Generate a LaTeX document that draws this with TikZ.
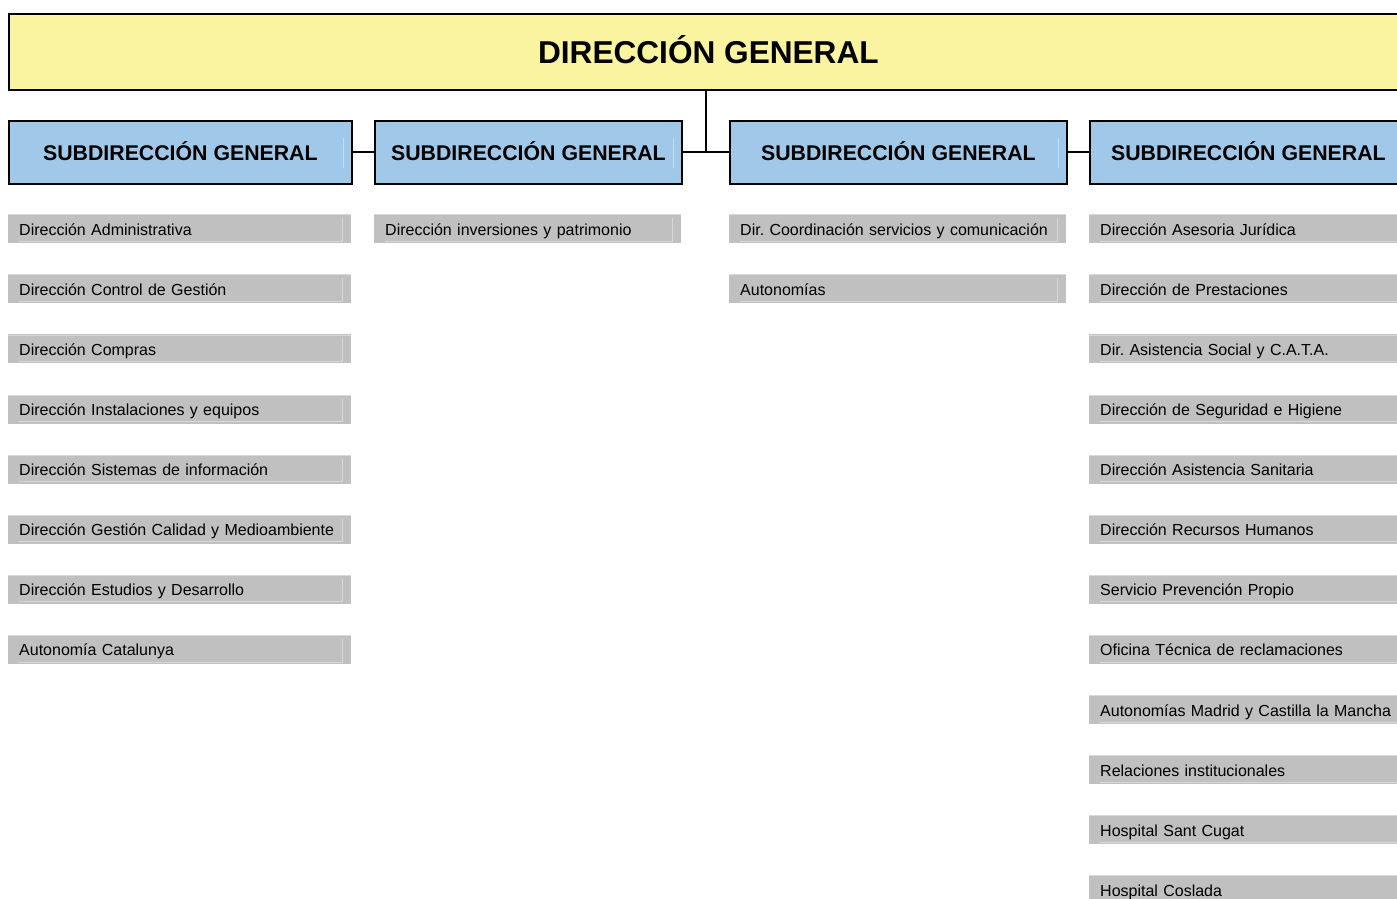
\documentclass[tikz,border=0pt]{standalone}
\usepackage{fontspec}
\setmainfont{Liberation Sans}
\frenchspacing
\definecolor{ytop}{HTML}{FAF39F}
\definecolor{bsub}{HTML}{9FC8E9}
\definecolor{gitem}{HTML}{C0C0C0}
\definecolor{glight}{HTML}{D8D8D8}
\definecolor{blight}{HTML}{C6DEF2}
\begin{document}
\begin{tikzpicture}[x=1pt,y=-1pt,
  topbox/.style={draw=black, line width=1.8pt, fill=ytop, inner sep=0pt, anchor=north west,
    text height=22.6pt, text depth=0pt,
    font=\fontsize{31.6}{36}\selectfont\bfseries},
  subbox/.style={draw=black, line width=1.8pt, fill=bsub, inner sep=0pt, anchor=north west,
    minimum height=63pt, text height=15.25pt, text depth=0pt,
    font=\fontsize{21.3}{25}\selectfont\bfseries,
    path picture={\draw[blight, line width=0.8pt]
      ([xshift=-9pt,yshift=16pt]path picture bounding box.south east) --
      ([xshift=-9pt,yshift=-17pt]path picture bounding box.north east);}},
  itembox/.style={fill=gitem, inner xsep=11pt, inner ysep=0pt, anchor=north west,
    minimum height=29pt, align=left, text height=16.5pt, text depth=3.5pt,
    font=\fontsize{16}{19}\selectfont,
    path picture={\draw[glight, line width=0.8pt]
      ([xshift=11pt,yshift=2pt]path picture bounding box.south west) --
      ([xshift=-9pt,yshift=2pt]path picture bounding box.south east) --
      ([xshift=-9pt,yshift=-4pt]path picture bounding box.north east);
      \draw[glight, line width=0.8pt]
      ([yshift=-0.5pt]path picture bounding box.north west) --
      ([yshift=-0.5pt]path picture bounding box.north east);}},
  conn/.style={draw=black, line width=2pt}]
\useasboundingbox (0,0) rectangle (1397,899);
\clip (0,0) rectangle (1397,899);

\node[topbox, minimum width=1399pt, minimum height=76pt] (dg) at (8,13) {DIRECCIÓN GENERAL};

\node[subbox, minimum width=343pt] (s1) at (8,120) {SUBDIRECCIÓN GENERAL};
\node[subbox, minimum width=307pt] (s2) at (374,120) {SUBDIRECCIÓN GENERAL};
\node[subbox, minimum width=337pt] (s3) at (729,120) {SUBDIRECCIÓN GENERAL};
\node[subbox, minimum width=317pt] (s4) at (1089,120) {SUBDIRECCIÓN GENERAL};

\coordinate (j) at (706,151.5);
\draw[conn] (j |- dg.south) -- (j);
\draw[conn] (s1.east) -- (s2.west);
\draw[conn] (s2.east) -- (s3.west);
\draw[conn] (s3.east) -- (s4.west);

\foreach \t [count=\i from 0] in {Dirección Administrativa, Dirección Control de Gestión,
  Dirección Compras, Dirección Instalaciones y equipos, Dirección Sistemas de información,
  Dirección Gestión Calidad y Medioambiente, Dirección Estudios y Desarrollo, Autonomía Catalunya}
  \node[itembox, text width=321pt] (c1-\i) at (8,{214+60.1*\i}) {\t};

\foreach \t [count=\i from 0] in {Dirección inversiones y patrimonio}
  \node[itembox, text width=285pt] (c2-\i) at (374,{214+60.1*\i}) {\t};

\foreach \t [count=\i from 0] in {Dir. Coordinación servicios y comunicación, Autonomías}
  \node[itembox, text width=315pt] (c3-\i) at (729,{214+60.1*\i}) {\t};

\foreach \t [count=\i from 0] in {Dirección Asesoria Jurídica, Dirección de Prestaciones,
  Dir. Asistencia Social y C.A.T.A., Dirección de Seguridad e Higiene,
  Dirección Asistencia Sanitaria, Dirección Recursos Humanos, Servicio Prevención Propio,
  Oficina Técnica de reclamaciones, Autonomías Madrid y Castilla la Mancha,
  Relaciones institucionales, Hospital Sant Cugat, Hospital Coslada}
  \node[itembox, text width=296pt] (c4-\i) at (1089,{214+60.1*\i}) {\t};
\end{tikzpicture}
\end{document}
